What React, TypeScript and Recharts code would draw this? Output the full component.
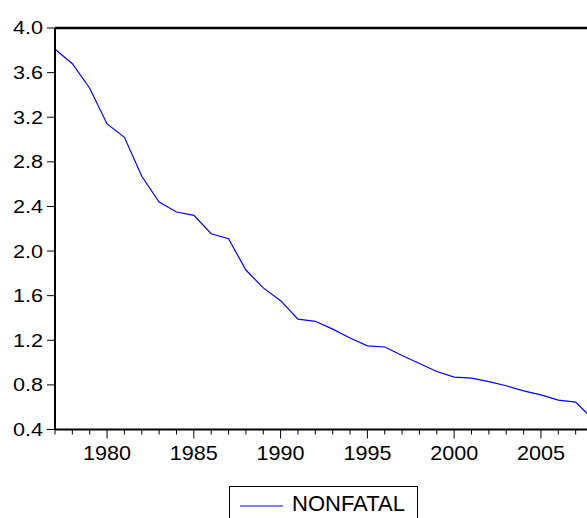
import React from 'react';
import { LineChart, Line, XAxis, YAxis, ReferenceLine } from 'recharts';

// yearly values
const years = [
  1977, 1978, 1979, 1980, 1981, 1982, 1983, 1984, 1985, 1986, 1987,
  1988, 1989, 1990, 1991, 1992, 1993, 1994, 1995, 1996, 1997, 1998,
  1999, 2000, 2001, 2002, 2003, 2004, 2005, 2006, 2007, 2008,
];
const nonfatal = [
  3.81, 3.68, 3.46, 3.14, 3.02, 2.67, 2.44, 2.35, 2.32, 2.155, 2.11,
  1.83, 1.67, 1.555, 1.39, 1.37, 1.3, 1.22, 1.15, 1.14, 1.063, 0.992,
  0.92, 0.87, 0.861, 0.83, 0.792, 0.747, 0.711, 0.664, 0.646, 0.49,
];
const yTicks = [0.4, 0.8, 1.2, 1.6, 2.0, 2.4, 2.8, 3.2, 3.6, 4.0];
const seriesName = 'NONFATAL';

const chartData = years.map((year, i) => ({ year, value: nonfatal[i] }));

const FONT = '"Liberation Sans", Arial, sans-serif';

const YTick = ({ x, y, payload }: any) => (
  <text
    transform={`translate(${x} ${y}) scale(1.2 1)`}
    textAnchor="end"
    dy="0.36em"
    fontSize={18}
    fontFamily={FONT}
    fill="#000"
  >
    {payload.value.toFixed(1)}
  </text>
);

const XTick = ({ x, y, payload }: any) => {
  const major = payload.value % 5 === 0;
  return (
    <g>
      <line x1={x} x2={x} y1={y} y2={y + (major ? 9 : 5)} stroke="#000" strokeWidth={1} />
      {major && (
        <text
          transform={`translate(${x} ${y + 30.5}) scale(1.08 1)`}
          textAnchor="middle"
          fontSize={20}
          fontFamily={FONT}
          fill="#000"
        >
          {payload.value}
        </text>
      )}
    </g>
  );
};

export default function App() {
  return (
    <div
      style={{
        position: 'absolute',
        left: 0,
        top: 0,
        width: 587,
        height: 518,
        overflow: 'hidden',
        background: '#fff',
      }}
    >
      <LineChart
        width={610}
        height={518}
        data={chartData}
        margin={{ top: 28, right: 17, bottom: 48.5, left: 0 }}
      >
        <XAxis
          dataKey="year"
          type="number"
          domain={[1977, 2008]}
          ticks={years}
          interval={0}
          tickSize={0}
          tickMargin={0}
          tickLine={false}
          tick={<XTick />}
          axisLine={{ stroke: '#000', strokeWidth: 2 }}
          height={40}
        />
        <YAxis
          type="number"
          domain={[0.4, 4.0]}
          ticks={yTicks}
          interval={0}
          width={55}
          tickSize={8}
          tickMargin={4}
          tickLine={{ stroke: '#000' }}
          tick={<YTick />}
          axisLine={{ stroke: '#000', strokeWidth: 2 }}
          allowDataOverflow
        />
        {/* top edge of the frame */}
        <ReferenceLine y={4.0} stroke="#000" strokeWidth={2.5} ifOverflow="visible" />
        <Line
          type="linear"
          dataKey="value"
          name={seriesName}
          stroke="#0000ff"
          strokeWidth={1.2}
          dot={false}
          isAnimationActive={false}
        />
      </LineChart>
      <div
        style={{
          position: 'absolute',
          left: 229,
          top: 486,
          width: 189,
          height: 40,
          border: '1px solid #000',
          boxSizing: 'border-box',
          background: '#fff',
        }}
      >
        <svg
          width={50}
          height={4}
          style={{ position: 'absolute', left: 10, top: 17 }}
        >
          <line x1={0} x2={43} y1={2} y2={2} stroke="#0000ff" strokeWidth={1.2} />
        </svg>
        <span
          style={{
            position: 'absolute',
            left: 62,
            top: 5,
            fontFamily: FONT,
            fontSize: 22,
            lineHeight: '24px',
            color: '#000',
            whiteSpace: 'nowrap',
          }}
        >
          {seriesName}
        </span>
      </div>
    </div>
  );
}
